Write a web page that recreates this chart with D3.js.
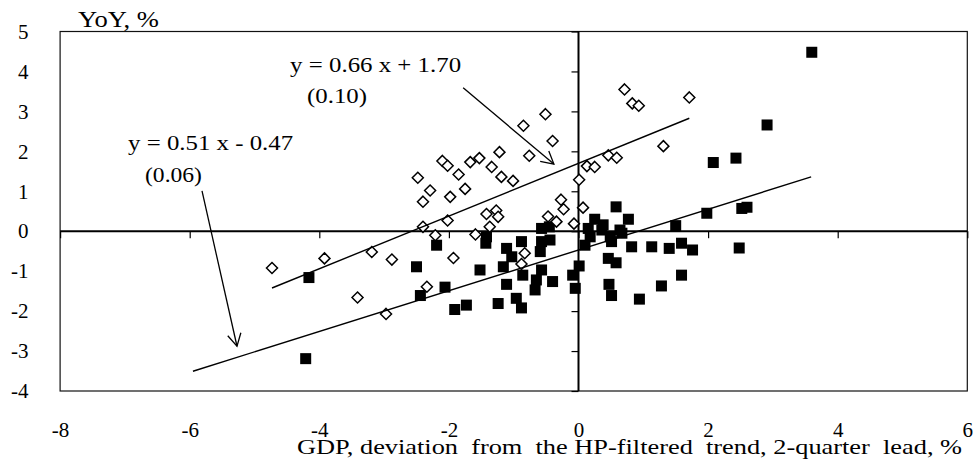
<!DOCTYPE html>
<html><head><meta charset="utf-8">
<script src="https://cdn.jsdelivr.net/npm/d3@7"></script>
<style>html,body{margin:0;padding:0;background:#fff;} svg{display:block;}</style>
</head><body><svg id="c" width="976" height="468"></svg>
<script>
// ---- data ----
const xTickValues = [-8, -6, -4, -2, 0, 2, 4, 6];
const yTickValues = [-4, -3, -2, -1, 0, 1, 2, 3, 4, 5];

// open diamonds (upper regression)
const openX = [-4.73,-3.92,-3.19,-2.88,-3.41,-2.97,-2.48,-2.29,-2.40,-2.10,-2.02,-1.85,-1.75,-1.98,-1.67,-1.53,-1.34,-1.22,-1.19,-1.01,-0.85,-0.51,-0.40,-0.76,0.01,-2.02,-2.40,-2.21,-1.93,-2.34,-1.59,-1.42,-1.27,-1.24,-1.37,-0.47,-0.34,-0.23,-0.07,0.07,-0.83,-0.88,-0.27,0.13,0.25,0.46,0.59,1.31,0.71,0.83,0.93,1.71];
const openY = [-0.92,-0.68,-0.52,-0.71,-1.66,-2.07,1.34,1.02,0.74,1.76,1.64,1.42,1.06,0.86,1.73,1.83,1.61,1.98,1.36,1.26,2.64,2.93,2.26,1.89,1.29,0.27,0.11,-0.10,-0.67,-1.39,-0.08,0.43,0.52,0.36,0.11,0.37,0.24,0.55,0.19,0.59,-0.55,-0.82,0.79,1.63,1.61,1.90,1.84,2.13,3.55,3.20,3.14,3.35];

// filled squares (lower regression)
const filledX = [-4.21,-4.16,-2.19,-2.50,-1.52,-1.42,-1.43,-1.11,-1.03,-0.88,-1.16,-0.86,-1.11,-2.06,-2.44,-1.91,-1.73,-1.24,-0.96,-0.88,-0.57,-0.45,-0.57,-0.44,-0.59,-0.57,-0.65,-0.40,-0.67,-0.09,-0.05,0.58,0.77,0.25,0.38,0.15,0.18,0.49,0.64,0.36,0.51,0.67,0.10,0.82,1.13,1.40,1.59,1.76,1.50,1.98,2.08,2.43,2.52,2.60,2.48,2.91,3.60,0.46,0.58,0.01,0.47,0.51,0.94,1.28,1.59];
const filledY = [-3.19,-1.16,-0.35,-0.89,-0.97,-0.14,-0.30,-0.43,-0.64,-0.26,-0.89,-1.10,-1.33,-1.40,-1.61,-1.96,-1.85,-1.81,-1.68,-1.92,0.07,0.11,-0.26,-0.22,-0.51,-0.97,-1.22,-1.26,-1.47,-1.10,-1.43,0.61,0.30,0.30,0.16,0.07,-0.14,-0.14,0.03,0.03,-0.26,-0.05,-0.35,-0.39,-0.39,-0.43,-0.30,-0.47,0.14,0.45,1.72,1.83,0.57,0.60,-0.42,2.66,4.48,-0.68,-0.79,-0.87,-1.33,-1.61,-1.70,-1.37,-1.10];

// regression lines: [upper (diamonds), lower (squares)]
const fitSlope = [0.66, 0.51];
const fitIntercept = [1.70, -0.47];
const fitFrom = [-4.73, -5.95];
const fitTo = [1.71, 3.59];

// annotations
const eqLabels = ["y = 0.66 x + 1.70", "y = 0.51 x - 0.47"];
const seLabels = ["(0.10)", "(0.06)"];
const eqPosX = [-4.45, -6.95], eqPosY = [3.99, 2.03];
const sePosX = [-4.19, -6.69], sePosY = [3.20, 1.24];
const arrowFromX = [-1.78, -5.81], arrowFromY = [3.59, 1.01];
const arrowToX = [-0.38, -5.27], arrowToY = [1.68, -2.88];

const xTitle = "GDP, deviation  from  the HP-filtered  trend, 2-quarter  lead, %";
const yTitle = "YoY, %";

// ---- chart ----
const FONT = "'Liberation Serif','Times New Roman',serif";
const svg = d3.select("#c");
svg.append("rect").attr("width", 976).attr("height", 468).attr("fill", "#fff");

const x = d3.scaleLinear().domain([-8, 6]).range([60.1, 967.3]);
const y = d3.scaleLinear().domain([-4, 5]).range([391, 31.5]);

// frame
svg.append("rect")
  .attr("x", x(-8)).attr("y", y(5))
  .attr("width", x(6) - x(-8)).attr("height", y(-4) - y(5))
  .attr("fill", "none").attr("stroke", "#111").attr("stroke-width", 1.2);

// zero lines
svg.append("line").attr("x1", x(-8)).attr("x2", x(6)).attr("y1", y(0)).attr("y2", y(0))
  .attr("stroke", "#000").attr("stroke-width", 2);
svg.append("line").attr("x1", x(0)).attr("x2", x(0)).attr("y1", y(5)).attr("y2", y(-4))
  .attr("stroke", "#000").attr("stroke-width", 2);

// y axis (ticks on the x=0 line, labels at the far left)
const yAxis = svg.append("g").attr("transform", `translate(${x(0)},0)`)
  .call(d3.axisLeft(y).tickValues(yTickValues).tickSize(7)
    .tickPadding(x(0) - 28.5 - 7).tickFormat(d => String(d)));
yAxis.select(".domain").remove();
yAxis.selectAll("line").attr("stroke", "#000").attr("stroke-width", 1.2);
yAxis.selectAll("text").attr("font-family", FONT).attr("font-size", 21).attr("fill", "#000");

// x axis (ticks on the y=0 line, labels below the frame)
const xAxis = svg.append("g").attr("transform", `translate(0,${y(0)})`)
  .call(d3.axisBottom(x).tickValues(xTickValues).tickSize(7)
    .tickPadding(437 - y(0) - 7 - 0.71 * 21).tickFormat(d => String(d)));
xAxis.select(".domain").remove();
xAxis.selectAll("line").attr("stroke", "#000").attr("stroke-width", 1.2);
xAxis.selectAll("text").attr("font-family", FONT).attr("font-size", 21).attr("fill", "#000");

// axis titles
svg.append("text").attr("x", 297).attr("y", 454)
  .attr("font-family", FONT).attr("font-size", 22).attr("fill", "#000")
  .style("white-space", "pre")
  .attr("textLength", 665).attr("lengthAdjust", "spacingAndGlyphs")
  .text(xTitle);
svg.append("text").attr("x", 78).attr("y", 27)
  .attr("font-family", FONT).attr("font-size", 23).attr("fill", "#000")
  .attr("textLength", 81).attr("lengthAdjust", "spacingAndGlyphs")
  .text(yTitle);

// squares
const sq = 11;
svg.append("g").selectAll("rect").data(filledX.map((d, i) => [d, filledY[i]])).join("rect")
  .attr("x", d => x(d[0]) - sq / 2).attr("y", d => y(d[1]) - sq / 2)
  .attr("width", sq).attr("height", sq).attr("fill", "#000");

// diamonds
const dr = 5.5;
svg.append("g").selectAll("path").data(openX.map((d, i) => [d, openY[i]])).join("path")
  .attr("d", d => {
    const cx = x(d[0]), cy = y(d[1]);
    return `M${cx},${cy - dr}L${cx + dr},${cy}L${cx},${cy + dr}L${cx - dr},${cy}Z`;
  })
  .attr("fill", "#fff").attr("stroke", "#000").attr("stroke-width", 1.5);

// regression lines
svg.append("g").selectAll("line").data(fitSlope.map((s, i) => i)).join("line")
  .attr("x1", i => x(fitFrom[i])).attr("y1", i => y(fitSlope[i] * fitFrom[i] + fitIntercept[i]))
  .attr("x2", i => x(fitTo[i])).attr("y2", i => y(fitSlope[i] * fitTo[i] + fitIntercept[i]))
  .attr("stroke", "#000").attr("stroke-width", 1.4);

// arrows
const ag = svg.append("g").attr("stroke", "#000").attr("stroke-width", 1.3).attr("fill", "none");
arrowFromX.forEach((_, i) => {
  const x1 = x(arrowFromX[i]), y1 = y(arrowFromY[i]);
  const x2 = x(arrowToX[i]), y2 = y(arrowToY[i]);
  ag.append("line").attr("x1", x1).attr("y1", y1).attr("x2", x2).attr("y2", y2);
  const a = Math.atan2(y2 - y1, x2 - x1);
  const L = 14, w = 0.5;
  ag.append("path").attr("d",
    `M${x2 - L * Math.cos(a - w)},${y2 - L * Math.sin(a - w)}L${x2},${y2}L${x2 - L * Math.cos(a + w)},${y2 - L * Math.sin(a + w)}`);
});

// equation labels
const eqW = [171, 165], seW = [60, 57];
eqLabels.forEach((t, i) => {
  svg.append("text").attr("x", x(eqPosX[i])).attr("y", y(eqPosY[i]))
    .attr("font-family", FONT).attr("font-size", 22).attr("fill", "#000")
    .attr("textLength", eqW[i]).attr("lengthAdjust", "spacingAndGlyphs").text(t);
  svg.append("text").attr("x", x(sePosX[i])).attr("y", y(sePosY[i]))
    .attr("font-family", FONT).attr("font-size", 22).attr("fill", "#000")
    .attr("textLength", seW[i]).attr("lengthAdjust", "spacingAndGlyphs").text(seLabels[i]);
});
</script></body></html>
